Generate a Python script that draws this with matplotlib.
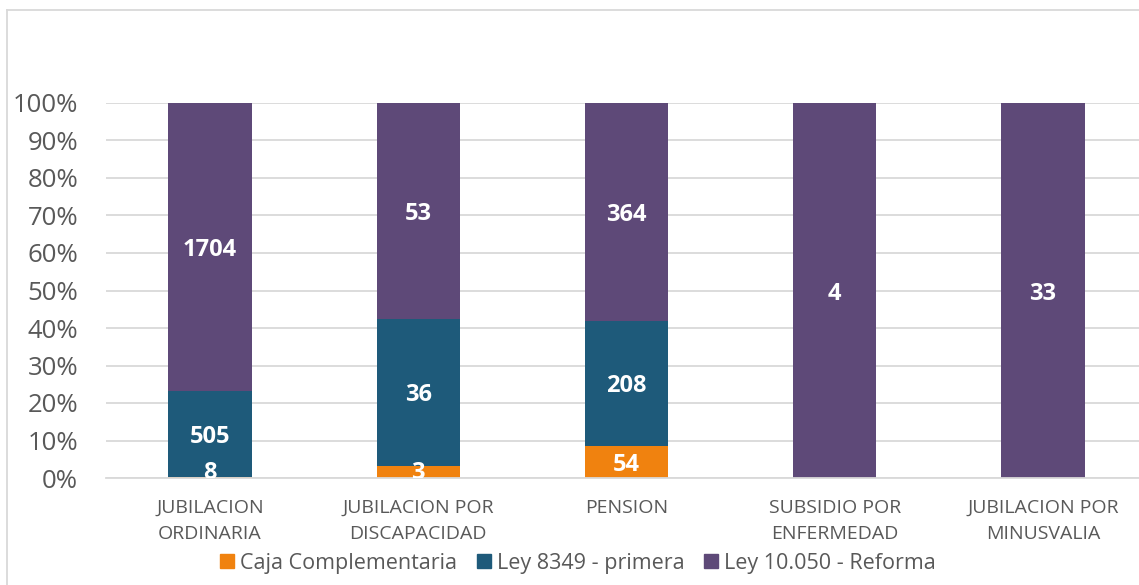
import matplotlib
matplotlib.use("Agg")
import matplotlib.pyplot as plt
import numpy as np
from matplotlib.patches import Patch
from matplotlib.lines import Line2D
from matplotlib.ticker import PercentFormatter

categories = ["JUBILACION\nORDINARIA", "JUBILACION POR\nDISCAPACIDAD", "PENSION",
              "SUBSIDIO POR\nENFERMEDAD", "JUBILACION POR\nMINUSVALIA"]
series_names = ["Caja Complementaria", "Ley 8349 - primera", "Ley 10.050 - Reforma"]
caja = [8, 3, 54, 0, 0]
ley8349 = [505, 36, 208, 0, 0]
ley10050 = [1704, 53, 364, 4, 33]
colors = ["#F0820F", "#1E5A7A", "#5E4978"]

plt.rcParams['font.family'] = ['Open Sans', 'DejaVu Sans']

W, H = 1139, 585
fig = plt.figure(figsize=(W / 100, H / 100), dpi=100)
ax = fig.add_axes([106 / W, (H - 478) / H, (1147 - 106) / W, (478 - 103) / H])

data = np.array([caja, ley8349, ley10050], dtype=float)
totals = data.sum(axis=0)
frac = data / totals
x = np.arange(len(categories))
bottom = np.zeros(len(categories))
for i, name in enumerate(series_names):
    ax.bar(x, frac[i], 0.4, bottom=bottom, color=colors[i], label=name, zorder=2)
    for j in range(len(categories)):
        if data[i, j] > 0:
            mid = bottom[j] + frac[i, j] / 2
            ax.text(x[j], max(mid, 0.022), f"{int(data[i, j])}", ha="center",
                    va="center_baseline", color="white", fontsize=17, fontweight="bold",
                    zorder=3, clip_on=True)
    bottom += frac[i]

ax.set_xlim(-0.5, len(categories) - 0.5)
ax.set_ylim(0, 1)
ax.set_yticks(np.arange(0, 1.01, 0.1))
ax.yaxis.set_major_formatter(PercentFormatter(1.0, decimals=0))
ax.set_xticks(x)
ax.set_xticklabels(categories, fontsize=14, color="#595959", linespacing=1.55)
ax.tick_params(axis="y", length=0, pad=20, labelsize=18.5, labelcolor="#595959")
ax.tick_params(axis="x", length=0, pad=15)
ax.grid(axis="y", color="#D9D9D9", linewidth=1.3, zorder=0)
ax.set_axisbelow(True)
for s in ["left", "right", "top"]:
    ax.spines[s].set_visible(False)
ax.spines["bottom"].set_color("#D9D9D9")
ax.spines["bottom"].set_linewidth(1.3)

handles = [Patch(color=c) for c in colors]
fig.legend(handles, series_names, loc="center", bbox_to_anchor=(578 / W, (H - 563) / H),
           ncol=3, frameon=False, fontsize=15.5, handlelength=0.65, handleheight=0.65,
           handletextpad=0.3, columnspacing=0.9, labelcolor="#595959")

# chart area border (left and top edges visible)
fig.add_artist(Line2D([7 / W, 7 / W], [0, (H - 10) / H], transform=fig.transFigure,
                      color="#D9D9D9", linewidth=1.3))
fig.add_artist(Line2D([7 / W, 1], [(H - 10) / H, (H - 10) / H], transform=fig.transFigure,
                      color="#D9D9D9", linewidth=1.3))

fig.savefig("out.png", dpi=100)
